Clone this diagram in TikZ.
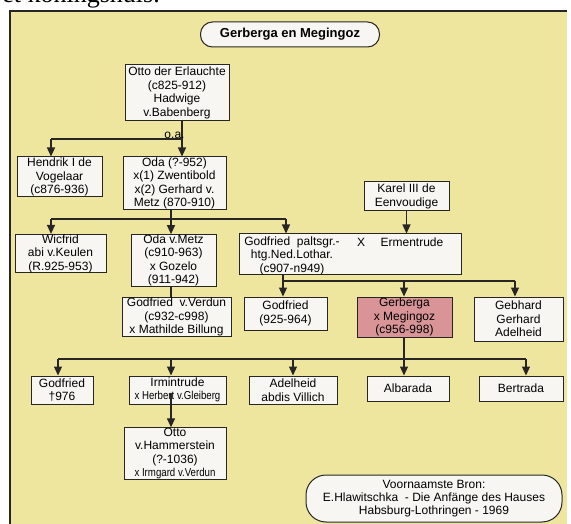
\documentclass[tikz,border=0pt]{standalone}
\usepackage{fontspec}
\setmainfont{Liberation Sans}
\newfontfamily\serfont{Liberation Serif}
\newfontfamily\smalfont[FakeStretch=0.84]{Liberation Sans}
\usetikzlibrary{arrows.meta}
\definecolor{paneel}{RGB}{238,229,158}
\definecolor{vak}{RGB}{247,246,242}
\definecolor{roze}{RGB}{217,148,152}
\definecolor{lijn}{RGB}{40,38,36}

\begin{document}
\begin{tikzpicture}[x=1pt, y=-1pt,
	txt/.style={inner sep=0pt, align=center, font=\fontsize{12}{13.5}\selectfont},
	pers/.style={txt, draw=lijn, fill=vak, line width=1pt},
	tak/.style={draw=lijn, line width=1.2pt},
	pijl/.style={tak, -{Triangle[length=9pt,width=8pt]}}]
\useasboundingbox (0,0) rectangle (571,524);
\clip (0,0) rectangle (571,524);
\fill[white] (0,0) rectangle (571,524);
\fill[paneel] (10,11) rectangle (567,530);
\draw[lijn, line width=1.3pt] (10,530) -- (10,11) -- (567,11);
\node[anchor=base east, inner sep=0pt, font=\serfont\fontsize{26}{26}\selectfont] (kop) at (160,3) {et koningshuis.};

\node[pers, font=\bfseries\fontsize{13}{15}\selectfont, rounded corners=12pt, minimum width=179pt, minimum height=25pt] (titel) at (290,34.5) {Gerberga en Megingoz};

% generaties
\node[pers, minimum width=104pt, minimum height=56pt] (otto) at (177,93) {Otto der Erlauchte\\(c825-912)\\Hadwige\\v.Babenberg};
\node[pers, minimum width=85pt, minimum height=40pt] (hendrik) at (59.5,177) {Hendrik I de\\Vogelaar\\(c876-936)};
\node[pers, minimum width=103pt, minimum height=53pt] (oda) at (174.5,183.5) {Oda (?-952)\\x(1) Zwentibold\\x(2) Gerhard v.\\Metz (870-910)};
\node[pers, minimum width=91pt, minimum height=37pt] (wicfrid) at (60.5,253.5) {Wicfrid\\abi v.Keulen\\(R.925-953)};
\node[pers, minimum width=85pt, minimum height=51pt] (odametz) at (173.5,260.5) {Oda v.Metz\\(c910-963)\\x Gozelo\\(911-942)};
\node[pers, minimum width=85pt, minimum height=29pt] (karel) at (406.5,196.5) {Karel III de\\Eenvoudige};
\node[pers, minimum width=222pt, minimum height=41pt] (gp) at (350,254.5) {};
\node[txt] (gptxt) at (292,255.5) {Godfried\ \ paltsgr.-\\htg.Ned.Lothar.\\(c907-n949)};
\node[txt] (x) at (361,242) {X};
\node[txt] (ermentrude) at (412,242) {Ermentrude};
\node[pers, minimum width=109pt, minimum height=38pt] (verdun) at (176.5,317) {Godfried\ \ v.Verdun\\(c932-c998)\\x Mathilde Billung};
\node[pers, minimum width=83pt, minimum height=33pt] (godf2) at (285.5,313.5) {Godfried\\(925-964)};
\node[pers, fill=roze, minimum width=95pt, minimum height=40pt] (gerberga) at (404.5,317) {Gerberga\\x Megingoz\\(c956-998)};
\node[pers, minimum width=89pt, minimum height=44pt] (gebhard) at (518.5,319) {Gebhard\\Gerhard\\Adelheid};
\node[pers, minimum width=62pt, minimum height=28pt] (godf3) at (62,390) {Godfried\\†976};
\node[pers, minimum width=97pt, minimum height=28pt] (irm) at (177.5,390) {Irmintrude\\{\smalfont\fontsize{11.5}{13}\selectfont x Herbert v.Gleiberg}};
\node[pers, minimum width=88pt, minimum height=28pt] (adelheid) at (293,390) {Adelheid\\abdis Villich};
\node[pers, minimum width=82pt, minimum height=25pt] (albarada) at (408,388.5) {Albarada};
\node[pers, minimum width=84pt, minimum height=25pt] (bertrada) at (521,388.5) {Bertrada};
\node[pers, minimum width=102pt, minimum height=51pt] (hammer) at (175,453.5) {Otto\\v.Hammerstein\\(?-1036)\\{\smalfont\fontsize{11.5}{13}\selectfont x Irmgard v.Verdun}};

\node[pers, rounded corners=20pt, minimum width=256pt, minimum height=47pt, font=\fontsize{12}{13}\selectfont] (bron) at (434,498.5) {Voornaamste Bron:\\E.Hlawitschka\ \ - Die Anfänge des Hauses\\Habsburg-Lothringen - 1969};

% lijnen
\coordinate (h1) at (51,139);
\coordinate (h2) at (182,139);
\draw[tak] (otto.south -| h2) -- (h2) -- (h1);
\draw[pijl] (h1) -- (h1 |- hendrik.north);
\draw[pijl] (h2) -- (h2 |- oda.north);
\node[txt] (oa) at (174.5,135.5) {o.a.};

\coordinate (o1) at (51,219);
\coordinate (o2) at (171,219);
\coordinate (o3) at (286,219);
\draw[tak] (oda.south -| o2) -- (o2);
\draw[tak] (o1) -- (o3);
\draw[pijl] (o1) -- (o1 |- wicfrid.north);
\draw[pijl] (o2) -- (o2 |- odametz.north);
\draw[pijl] (o3) -- (o3 |- gp.north);
\draw[tak] (odametz.south -| o2) -- (verdun.north -| o2);

\draw[pijl] (karel.south) -- (karel.south |- gp.north);

\coordinate (g1) at (283,281);
\coordinate (g2) at (404,281);
\coordinate (g3) at (515,281);
\draw[tak] (gp.south -| g1) -- (g1) -- (g3);
\draw[pijl] (g1) -- (g1 |- godf2.north);
\draw[pijl] (g2) -- (g2 |- gerberga.north);
\draw[pijl] (g3) -- (g3 |- gebhard.north);

\coordinate (d1) at (58,359);
\coordinate (d2) at (171,359);
\coordinate (d3) at (293,359);
\coordinate (d4) at (404,359);
\coordinate (d5) at (526,359);
\draw[tak] (gerberga.south -| d4) -- (d4);
\draw[tak] (d1) -- (d5);
\draw[pijl] (d1) -- (d1 |- godf3.north);
\draw[pijl] (d2) -- (d2 |- irm.north);
\draw[pijl] (d3) -- (d3 |- adelheid.north);
\draw[pijl] (d4) -- (d4 |- albarada.north);
\draw[pijl] (d5) -- (d5 |- bertrada.north);

\coordinate (i1) at (171,393);
\draw[pijl] (i1) -- (i1 |- hammer.north);
\end{tikzpicture}
\end{document}
